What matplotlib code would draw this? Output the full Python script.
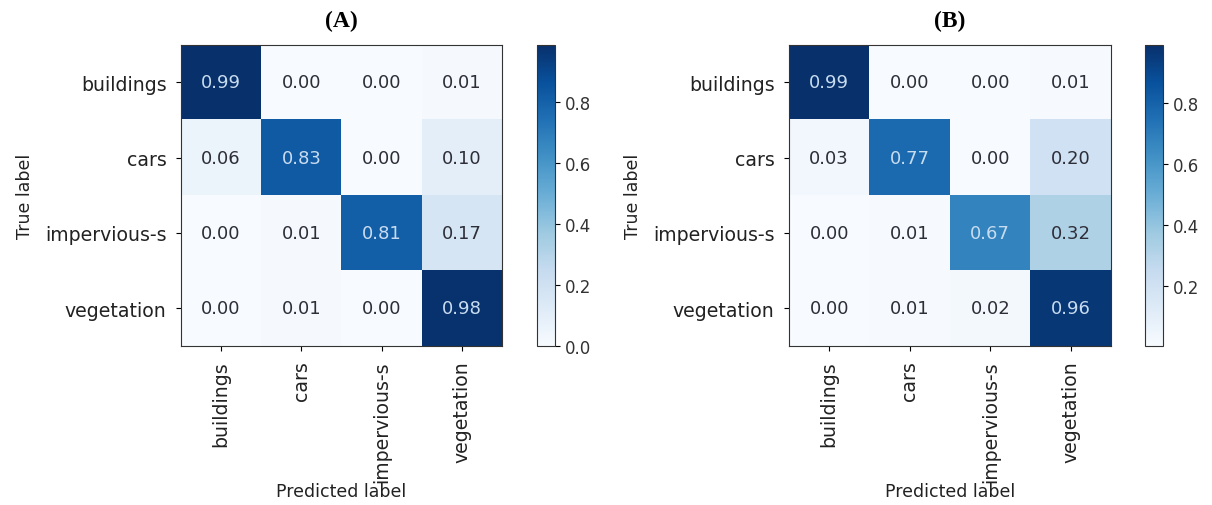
import numpy as np
import matplotlib
matplotlib.use("Agg")
import matplotlib.pyplot as plt

classes = ["buildings", "cars", "impervious-s", "vegetation"]

cm_a = [[0.99, 0.00, 0.00, 0.01],
        [0.06, 0.83, 0.00, 0.10],
        [0.00, 0.01, 0.81, 0.17],
        [0.00, 0.01, 0.00, 0.98]]

cm_b = [[0.99, 0.00, 0.00, 0.01],
        [0.03, 0.77, 0.00, 0.20],
        [0.00, 0.01, 0.67, 0.32],
        [0.00, 0.01, 0.02, 0.96]]

# colour limits as shown on the two colorbars
clim_a = (0.0, 0.99)
clim_b = (0.003, 0.99)

panel_titles = ["(A)", "(B)"]

W, H = 1212, 506
fig = plt.figure(figsize=(W / 100, H / 100), dpi=100)
cmap = plt.get_cmap("Blues")


def px_axes(x0, x1, y0, y1):
    # pixel box -> figure fraction axes
    return fig.add_axes([x0 / W, 1 - y1 / H, (x1 - x0) / W, (y1 - y0) / H])


def draw_panel(cm, clim, title, ax_box, cb_box):
    cm = np.array(cm)
    ax = px_axes(*ax_box)
    cax = px_axes(*cb_box)
    im = ax.imshow(cm, cmap=cmap, vmin=clim[0], vmax=clim[1],
                   aspect="auto", interpolation="nearest")
    thresh = (clim[0] + clim[1]) / 2
    for i in range(cm.shape[0]):
        for j in range(cm.shape[1]):
            col = "#c8dcf0" if cm[i, j] > thresh else "#2e2e38"
            ax.text(j, i, f"{cm[i, j]:.2f}", ha="center", va="center",
                    color=col, fontsize=13)
    ax.set_xticks(range(len(classes)))
    ax.set_yticks(range(len(classes)))
    ax.set_xticklabels(classes, rotation=90, fontsize=13.6, color="#222222")
    ax.set_yticklabels(classes, fontsize=13.6, color="#222222")
    ax.tick_params(pad=7)
    ax.set_xlabel("Predicted label", fontsize=12.5, color="#222222", labelpad=0)
    ax.set_ylabel("True label", fontsize=12.5, color="#222222", labelpad=8)
    for s in ax.spines.values():
        s.set_color("#333333")
    cb = fig.colorbar(im, cax=cax)
    cb.ax.tick_params(labelsize=12, labelcolor="#333333")
    cb.outline.set_edgecolor("#333333")
    cx = (ax_box[0] + ax_box[1]) / 2
    fig.text(cx / W, 1 - 21 / H, title, ha="center", va="center",
             fontsize=17, fontweight="bold", family="Liberation Serif")


draw_panel(cm_a, clim_a, panel_titles[0], (181, 502, 45.5, 347), (537, 555, 45.5, 347))
draw_panel(cm_b, clim_b, panel_titles[1], (789, 1111, 45.5, 347), (1145, 1163, 45.5, 347))

fig.savefig("out.png", dpi=100)
